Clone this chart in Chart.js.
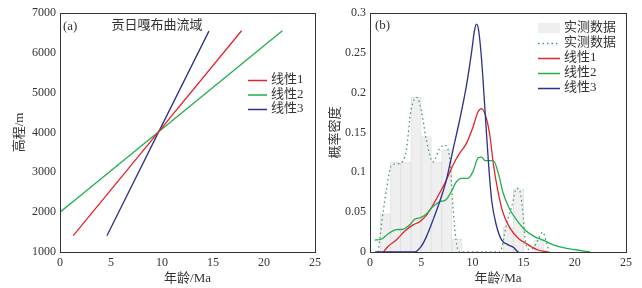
<!DOCTYPE html>
<html lang="zh-CN">
<head>
<meta charset="utf-8">
<title>贡日嘎布曲流域 年龄-高程</title>
<script src="https://cdn.jsdelivr.net/npm/chart.js@4"></script>
<style>
  html, body { margin: 0; padding: 0; background: #fff; }
  .wrap { display: flex; width: 642px; height: 288px; }
  canvas { display: block; }
</style>
</head>
<body>
<div class="wrap">
  <canvas id="chartA" width="321" height="288"></canvas>
  <canvas id="chartB" width="321" height="288"></canvas>
</div>
<script>
// ---- data ----
const ageTicks = [0, 5, 10, 15, 20, 25];
const elevTicks = [1000, 2000, 3000, 4000, 5000, 6000, 7000];
const densTicks = [0, 0.05, 0.1, 0.15, 0.2, 0.25, 0.3];
const fitNames = ['线性1', '线性2', '线性3'];
const obsName = '实测数据';

// (a) linear fits, end points
const fit1Age = [1.3, 17.8];  const fit1Elev = [1410, 6555];
const fit2Age = [0, 21.8];    const fit2Elev = [2000, 6555];
const fit3Age = [4.6, 14.6];  const fit3Elev = [1410, 6545];

// (b) histogram of measured ages (1 Ma bins)
const binCenters = [1.5, 2.5, 3.5, 4.5, 5.5, 6.5, 7.5, 8.5, 13.5, 14.5, 16.5];
const binDensity = [0.048, 0.113, 0.113, 0.194, 0.145, 0.113, 0.128, 0.016, 0.031, 0.079, 0.015];

// (b) density curves
const obsAge  = [0.8, 1.1, 1.6, 2.1, 2.9, 3.55, 4.0, 4.6, 5.0, 5.5, 6.15, 6.8, 7.3, 7.8, 8.1, 8.4, 8.7, 12.7, 12.86, 13.35, 13.84, 14.33, 14.65, 14.97, 15.2, 15.6, 16.0, 16.4, 16.87, 17.25, 17.5];
const obsDens = [0, 0.032, 0.078, 0.109, 0.111, 0.128, 0.178, 0.194, 0.178, 0.141, 0.113, 0.130, 0.134, 0.115, 0.057, 0.015, 0, 0, 0.005, 0.036, 0.057, 0.080, 0.076, 0.044, 0.011, 0.003, 0.006, 0.015, 0.025, 0.011, 0];
const lin1Age  = [1.3, 1.76, 2.57, 3.38, 4.2, 4.85, 5.5, 6.15, 6.8, 7.45, 8.1, 8.76, 9.4, 10.06, 10.55, 10.9, 11.4, 11.72, 12.04, 12.53, 13.0, 13.67, 14.5, 15.46, 16.4, 17.4];
const lin1Dens = [0, 0.007, 0.015, 0.026, 0.034, 0.038, 0.046, 0.059, 0.074, 0.090, 0.109, 0.124, 0.136, 0.157, 0.176, 0.180, 0.166, 0.145, 0.111, 0.074, 0.049, 0.030, 0.017, 0.009, 0.0025, 0];
const lin2Age  = [0.46, 1.1, 1.76, 2.57, 3.2, 3.87, 4.36, 5.0, 5.5, 6.15, 6.8, 7.45, 7.94, 8.43, 8.9, 9.57, 10.06, 10.58, 10.9, 11.23, 12.04, 12.53, 13.0, 13.67, 14.33, 15.14, 16.1, 16.9, 17.9, 19.2, 20.2, 21.5];
const lin2Dens = [0.015, 0.016, 0.0226, 0.028, 0.0285, 0.034, 0.041, 0.0435, 0.0477, 0.057, 0.063, 0.066, 0.076, 0.088, 0.0925, 0.0925, 0.101, 0.1185, 0.119, 0.1146, 0.1146, 0.099, 0.074, 0.053, 0.040, 0.0276, 0.019, 0.015, 0.009, 0.0046, 0.0025, 0];
const lin3Age  = [0.5, 4.36, 5.0, 5.5, 6.15, 6.8, 7.45, 8.1, 8.76, 9.4, 9.9, 10.22, 10.4, 10.6, 10.9, 11.23, 11.55, 11.88, 12.37, 12.86, 13.5, 14.0, 14.3, 14.5];
const lin3Dens = [0, 0, 0.007, 0.019, 0.040, 0.063, 0.090, 0.128, 0.166, 0.2075, 0.249, 0.279, 0.286, 0.279, 0.241, 0.178, 0.1155, 0.065, 0.032, 0.015, 0.009, 0.006, 0.002, 0];

const RED = '#e5232a', GREEN = '#1eae4e', BLUE = '#2c2f8e', DOT = '#3f9c70';
const SERIF = '"Liberation Serif", "Noto Sans CJK SC", serif';
const TXT = '#333';

const pts = (xs, ys) => xs.map((x, i) => ({ x: x, y: ys[i] }));

// frame around plot area + text labels + in-plot legend
const panelDecor = {
  id: 'panelDecor',
  afterDraw(chart, args, opts) {
    const { ctx, chartArea: a } = chart;
    ctx.save();
    ctx.strokeStyle = '#333';
    ctx.lineWidth = 1;
    const l = Math.round(a.left) + 0.5, t = Math.round(a.top) + 0.5;
    ctx.strokeRect(l, t, Math.round(a.right) - Math.round(a.left), Math.round(a.bottom) - Math.round(a.top));

    ctx.fillStyle = TXT;
    ctx.textBaseline = 'middle';
    (opts.texts || []).forEach(tx => {
      ctx.font = tx.font;
      ctx.textAlign = tx.align || 'left';
      ctx.fillText(tx.text, tx.x, tx.y);
    });

    const lg = opts.legend;
    if (lg) {
      ctx.font = '13px ' + SERIF;
      ctx.textAlign = 'left';
      chart.data.datasets.forEach((ds, i) => {
        const y = lg.y + i * lg.step;
        if (ds.type === 'bar') {
          ctx.fillStyle = ds.backgroundColor;
          ctx.fillRect(lg.x, y - 5, lg.w, 10);
        } else {
          ctx.strokeStyle = ds.borderColor;
          ctx.lineWidth = ds.borderDash ? 1.3 : 1.5;
          ctx.setLineDash(ds.borderDash || []);
          ctx.beginPath();
          ctx.moveTo(lg.x, y + 0.5);
          ctx.lineTo(lg.x + lg.w, y + 0.5);
          ctx.stroke();
          ctx.setLineDash([]);
        }
        ctx.fillStyle = TXT;
        ctx.fillText(ds.label, lg.x + lg.w + 4, y);
      });
    }
    ctx.restore();
  }
};

function scaleX() {
  return {
    type: 'linear', min: 0, max: 25, offset: false,
    grid: { display: false, drawTicks: false },
    border: { display: false },
    afterBuildTicks: s => { s.ticks = ageTicks.map(v => ({ value: v })); },
    afterFit: s => { s.height = 36; s.paddingLeft = 0; s.paddingRight = 0; },
    ticks: { color: TXT, padding: 4, font: { family: SERIF, size: 12 }, maxRotation: 0, callback: v => String(v) },
    title: { display: true, text: '年龄/Ma', color: TXT, font: { family: SERIF, size: 13 }, padding: { top: 0, bottom: 2 } }
  };
}

function scaleY(min, max, tickList, width, title, tpad) {
  return {
    type: 'linear', min: min, max: max,
    grid: { display: false, drawTicks: false },
    border: { display: false },
    afterBuildTicks: s => { s.ticks = tickList.map(v => ({ value: v })); },
    afterFit: s => { s.width = width; s.paddingTop = 0; s.paddingBottom = 0; },
    ticks: { color: TXT, padding: 4, font: { family: SERIF, size: 12 }, callback: v => String(v) },
    title: { display: true, text: title, color: TXT, font: { family: SERIF, size: 13 }, padding: { top: tpad, bottom: 0 } }
  };
}

function lineDs(label, data, color, order, extra) {
  return Object.assign({
    type: 'line', label: label, data: data,
    borderColor: color, backgroundColor: color, borderWidth: 1.3,
    pointRadius: 0, fill: false, tension: 0.4, cubicInterpolationMode: 'monotone', order: order
  }, extra || {});
}

// ---- (a) age-elevation ----
new Chart(document.getElementById('chartA'), {
  type: 'line',
  data: {
    datasets: [
      lineDs(fitNames[0], pts(fit1Age, fit1Elev), RED, 1, { tension: 0 }),
      lineDs(fitNames[1], pts(fit2Age, fit2Elev), GREEN, 2, { tension: 0 }),
      lineDs(fitNames[2], pts(fit3Age, fit3Elev), BLUE, 3, { tension: 0 })
    ]
  },
  options: {
    responsive: false, animation: false,
    layout: { padding: { top: 13, right: 6, left: 0, bottom: 0 } },
    scales: { x: scaleX(), y: scaleY(1000, 7000, elevTicks, 60, '高程/m', 12) },
    plugins: {
      legend: { display: false }, tooltip: { enabled: false },
      panelDecor: {
        texts: [
          { text: '(a)', x: 63, y: 27, font: '13px ' + SERIF },
          { text: '贡日嘎布曲流域', x: 157, y: 26, align: 'center', font: '13px ' + SERIF }
        ],
        legend: { x: 248, y: 80, step: 14.5, w: 19 }
      }
    }
  },
  plugins: [panelDecor]
});

// ---- (b) probability density ----
new Chart(document.getElementById('chartB'), {
  type: 'bar',
  data: {
    datasets: [
      { type: 'bar', label: obsName, data: pts(binCenters, binDensity),
        backgroundColor: '#efefef', borderColor: '#e2e2e2', borderWidth: 1,
        barPercentage: 1, categoryPercentage: 1, grouped: false, order: 5 },
      lineDs(obsName, pts(obsAge, obsDens), DOT, 4, { borderDash: [1.5, 3], borderWidth: 1.3 }),
      lineDs(fitNames[0], pts(lin1Age, lin1Dens), RED, 3),
      lineDs(fitNames[1], pts(lin2Age, lin2Dens), GREEN, 2),
      lineDs(fitNames[2], pts(lin3Age, lin3Dens), BLUE, 1)
    ]
  },
  options: {
    responsive: false, animation: false,
    layout: { padding: { top: 13, right: 16, left: 0, bottom: 0 } },
    scales: { x: scaleX(), y: scaleY(0, 0.3, densTicks, 49, '概率密度', 7) },
    plugins: {
      legend: { display: false }, tooltip: { enabled: false },
      panelDecor: {
        texts: [
          { text: '(b)', x: 54, y: 26, font: '13px ' + SERIF }
        ],
        legend: { x: 217, y: 28, step: 15, w: 22 }
      }
    }
  },
  plugins: [panelDecor]
});
</script>
</body>
</html>
